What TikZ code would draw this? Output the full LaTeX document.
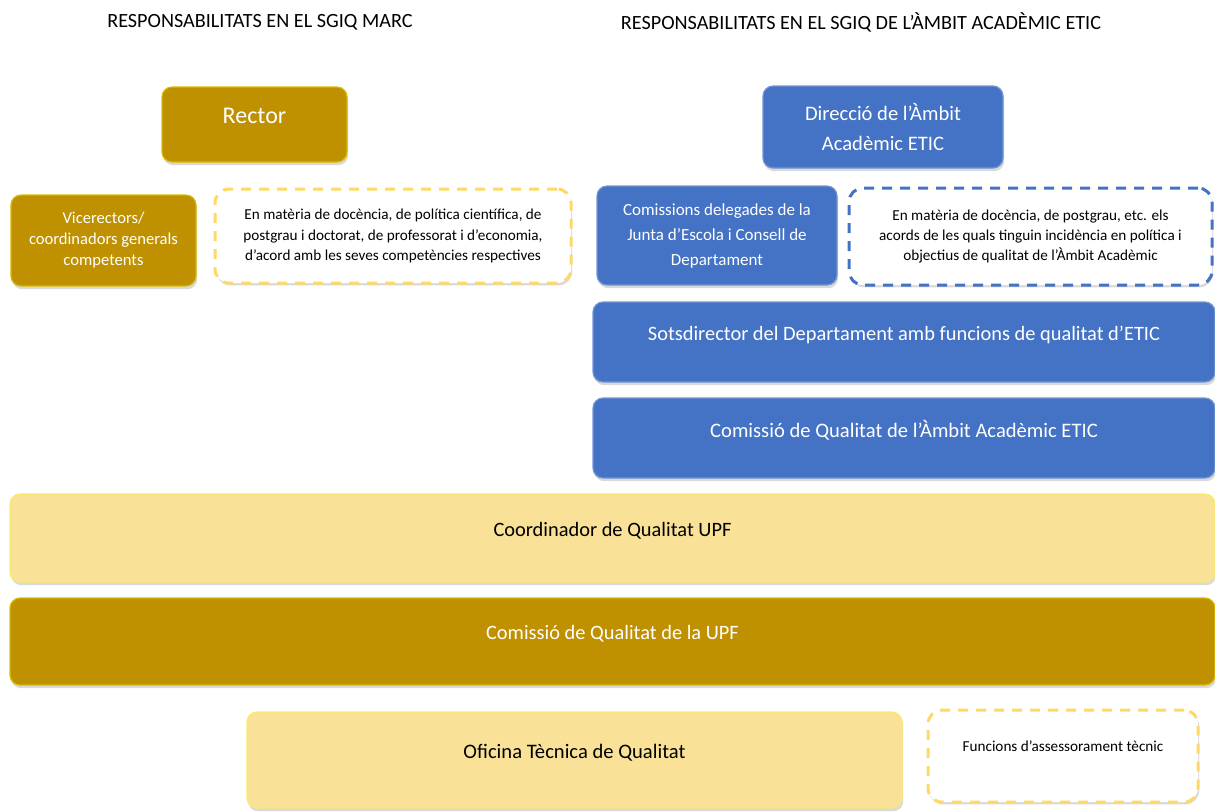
\documentclass[tikz,border=0pt]{standalone}
\usepackage{fontspec}
\setmainfont{Carlito}
\usetikzlibrary{shadows}

\definecolor{goldfill}{RGB}{191,144,0}
\definecolor{lightfill}{RGB}{249,226,152}
\definecolor{bluefill}{RGB}{68,114,196}
\definecolor{notegold}{RGB}{255,217,102}

\begin{document}
\begin{tikzpicture}[x=0.5pt, y=-0.5pt,
		box/.style = {rectangle, rounded corners=5pt, align=center, inner sep=2pt, line width=0.6pt,
			drop shadow={shadow xshift=0.6pt, shadow yshift=-1.6pt, opacity=0.3}},
		gold node/.style = {box, fill=goldfill, draw=goldfill!60!yellow, text=white},
		light node/.style = {box, fill=lightfill, draw=lightfill!70!yellow, text=black},
		blue node/.style = {box, fill=bluefill, draw=bluefill!75!white, text=white},
		note node/.style = {rectangle, rounded corners=7pt, align=center, fill=white, line width=1.5pt,
			dash pattern=on 5pt off 4pt, font=\fontsize{7.6}{10.2}\selectfont,
			drop shadow={shadow xshift=0.6pt, shadow yshift=-1.2pt, opacity=0.3}},
		raised/.style = {text depth=9pt},
		head/.style = {font=\fontsize{10.1}{12}\selectfont}]
	\useasboundingbox (0,0) rectangle (1215,811);

	% column headings
	\node[head] (hmarc) at (260,22) {RESPONSABILITATS EN EL SGIQ MARC};
	\node[head] (hetic) at (861,22) {RESPONSABILITATS EN EL SGIQ DE L’ÀMBIT ACADÈMIC ETIC};

	% SGIQ marc
	\node[gold node, raised, minimum width=92.5pt, minimum height=37.5pt, font=\fontsize{12}{14}\selectfont] (rector) at (254.5,124.5) {Rector};
	\node[gold node, minimum width=92.5pt, minimum height=45.5pt, font=\fontsize{8.3}{10.5}\selectfont] (vicerectors) at (103.5,240.5) {Vicerectors/\\coordinadors generals\\competents};
	\node[note node, draw=notegold, minimum width=178pt, minimum height=47pt] (notamarc) at (393,236) {En matèria de docència, de política científica, de\\postgrau i doctorat,  de professorat i d’economia,\\d’acord amb les seves competències respectives};

	% SGIQ ambit ETIC
	\node[blue node, minimum width=120pt, minimum height=41pt, font=\fontsize{10.3}{15}\selectfont] (direccio) at (883,127) {Direcció de l’Àmbit\\Acadèmic ETIC};
	\node[blue node, minimum width=120pt, minimum height=49.5pt, font=\fontsize{8.5}{12.5}\selectfont] (delegades) at (717,235.5) {Comissions  delegades de la\\Junta d’Escola i Consell de\\Departament};
	\node[note node, draw=bluefill, minimum width=181.5pt, minimum height=48.5pt] (notaetic) at (1030.5,236.5) {En matèria de docència, de postgrau, etc. els\\acords de les quals tinguin incidència en política i\\objectius de qualitat de l’Àmbit Acadèmic};
	\node[blue node, raised, minimum width=311pt, minimum height=40pt, font=\fontsize{10.2}{12}\selectfont] (sotsdirector) at (904,342) {Sotsdirector  del Departament amb funcions de qualitat d’ETIC};
	\node[blue node, raised, minimum width=311pt, minimum height=40pt, font=\fontsize{10.3}{12}\selectfont] (cqetic) at (904,438) {Comissió de Qualitat de l’Àmbit Acadèmic ETIC};

	% comuns
	\node[light node, raised, minimum width=602.5pt, minimum height=44pt, font=\fontsize{10.2}{12}\selectfont] (coordinador) at (612.5,538) {Coordinador de Qualitat UPF};
	\node[gold node, raised, minimum width=602.5pt, minimum height=43.5pt, font=\fontsize{10.2}{12}\selectfont] (cqupf) at (612.5,641.5) {Comissió de Qualitat de la UPF};
	\node[light node, raised, minimum width=327.5pt, minimum height=48pt, font=\fontsize{10.3}{12}\selectfont] (oficina) at (574.5,760) {Oficina Tècnica de Qualitat};
	\node[note node, draw=notegold, minimum width=135pt, minimum height=46pt, text depth=10pt] (funcions) at (1063,756) {Funcions d’assessorament tècnic};

\end{tikzpicture}
\end{document}
